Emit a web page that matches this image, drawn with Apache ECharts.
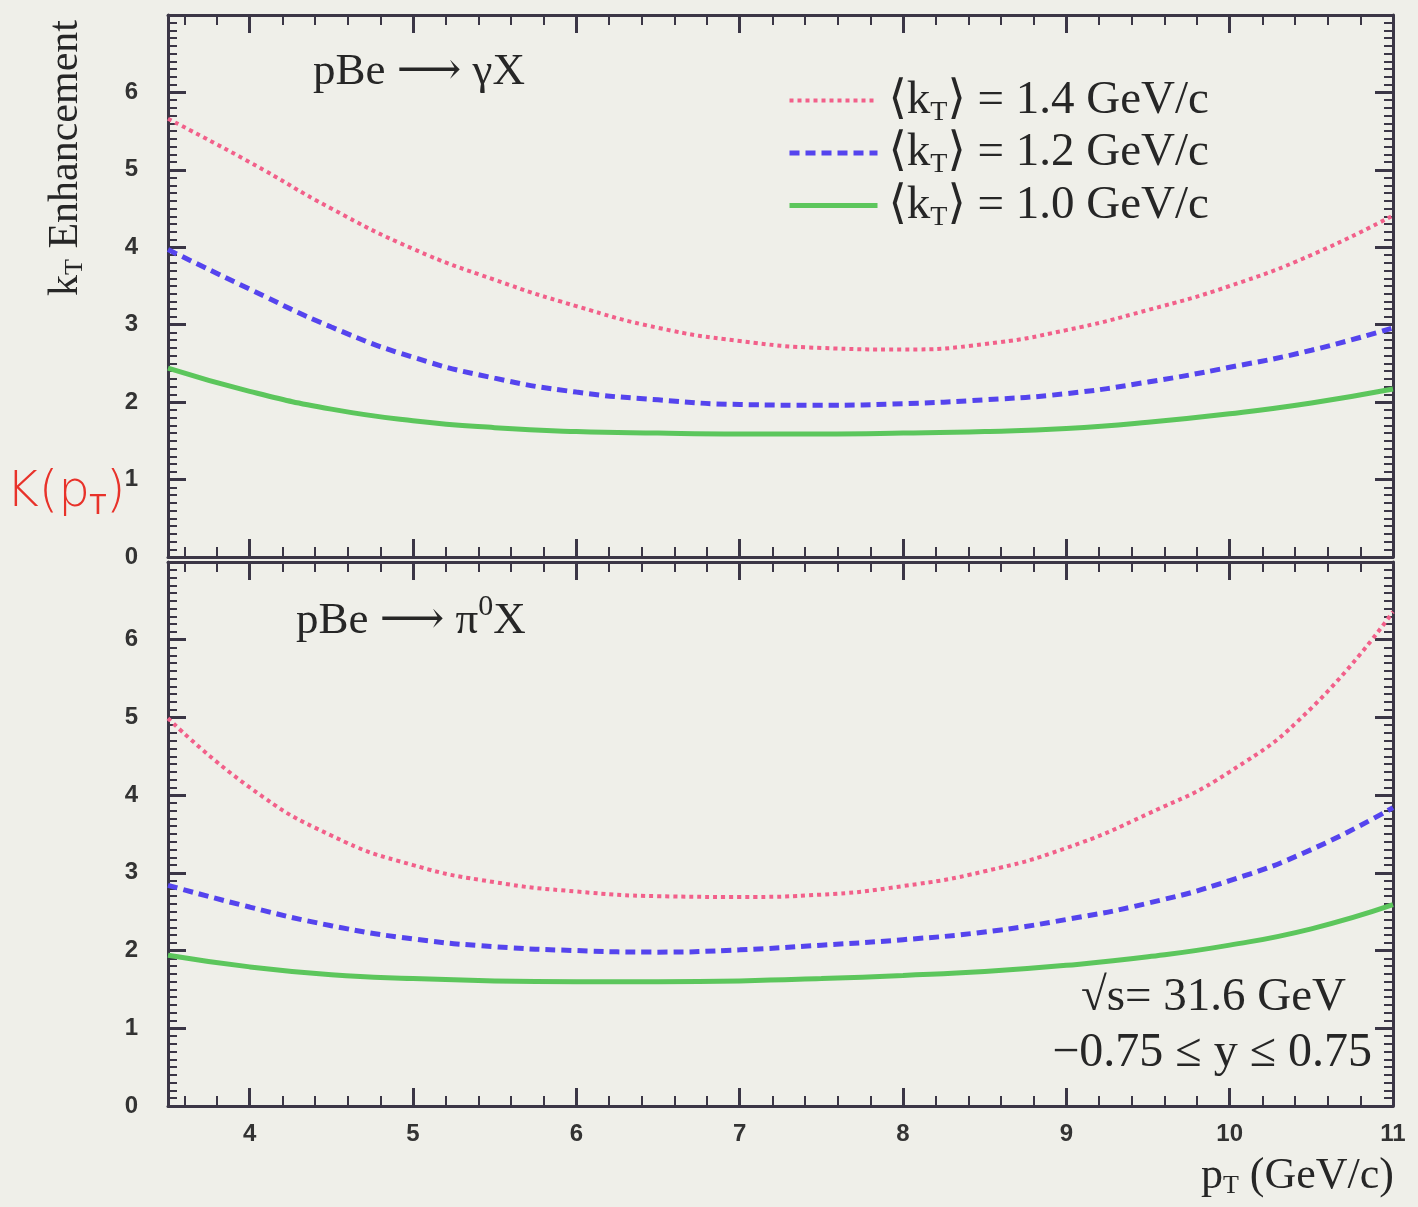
<!DOCTYPE html>
<html><head><meta charset="utf-8">
<script src="https://cdn.jsdelivr.net/npm/echarts@6/dist/echarts.min.js"></script>
<style>html,body{margin:0;padding:0;background:#efefe9}#c{width:1418px;height:1207px}</style>
</head><body><div id="c"></div><script>
// p_T sample points (GeV/c)
const pT = [3.5, 4, 4.5, 5, 5.5, 6, 6.5, 7, 7.5, 8, 8.5, 9, 9.5, 10, 10.5, 11];
const kTValues = ['1.4', '1.2', '1.0'];
// Top panel: pBe -> gamma X
const gamma14 = [5.66, 5.10, 4.50, 3.98, 3.58, 3.24, 2.96, 2.79, 2.70, 2.68, 2.75, 2.93, 3.19, 3.50, 3.90, 4.41];
const gamma12 = [3.97, 3.46, 2.97, 2.58, 2.31, 2.13, 2.03, 1.97, 1.96, 1.98, 2.03, 2.11, 2.26, 2.45, 2.67, 2.96];
const gamma10 = [2.44, 2.14, 1.91, 1.76, 1.67, 1.62, 1.60, 1.59, 1.59, 1.60, 1.62, 1.66, 1.74, 1.85, 1.99, 2.17];
// Bottom panel: pBe -> pi0 X
const pi14 = [4.99, 4.10, 3.48, 3.10, 2.88, 2.76, 2.70, 2.69, 2.72, 2.83, 3.02, 3.32, 3.76, 4.30, 5.12, 6.36];
const pi12 = [2.84, 2.56, 2.32, 2.15, 2.05, 2.00, 1.98, 2.01, 2.07, 2.14, 2.24, 2.40, 2.61, 2.90, 3.30, 3.84];
const pi10 = [1.94, 1.79, 1.69, 1.64, 1.61, 1.60, 1.60, 1.61, 1.64, 1.68, 1.73, 1.81, 1.92, 2.07, 2.28, 2.59];
const yTicks = [0, 1, 2, 3, 4, 5, 6];

const frameColor = '#3b3646';
const serif = "'Liberation Serif','DejaVu Serif',serif";
const sans = "'Liberation Sans','DejaVu Sans',sans-serif";
const ink = '#262626';
const colors = ['#f2608a', '#5544ee', '#5cc65c'];
const lineTypes = [[4, 4], [10, 6], 'solid'];
const names = kTValues.map(v => 'kT=' + v);

function xAxis(grid, pos, labels) {
  return {
    type: 'value', gridIndex: grid, position: pos, min: 3.5, max: 11,
    minInterval: 1, maxInterval: 1,
    axisLine: {show: true, onZero: false, lineStyle: {color: frameColor, width: 3}},
    axisTick: {show: true, inside: true, length: 18, lineStyle: {color: frameColor, width: 3}},
    minorTick: {show: true, splitNumber: 5, length: 10, lineStyle: {color: frameColor, width: 2}},
    splitLine: {show: false}, minorSplitLine: {show: false},
    axisLabel: {show: labels, margin: 16, color: '#333', fontFamily: sans, fontWeight: 'bold', fontSize: 24,
      formatter: v => Number.isInteger(v) ? String(v) : ''}
  };
}
function yAxis(grid, pos, labels) {
  return {
    type: 'value', gridIndex: grid, position: pos, min: 0, max: 7, interval: 1,
    axisLine: {show: true, onZero: false, lineStyle: {color: frameColor, width: 3}},
    axisTick: {show: true, inside: true, length: 18, lineStyle: {color: frameColor, width: 3}},
    minorTick: {show: true, splitNumber: 10, length: 9, lineStyle: {color: frameColor, width: 2}},
    splitLine: {show: false}, minorSplitLine: {show: false},
    axisLabel: {show: labels, margin: 30, color: '#333', fontFamily: sans, fontWeight: 'bold', fontSize: 24,
      showMaxLabel: false, formatter: v => yTicks.includes(v) ? String(v) : ''}
  };
}

function mk(i, grid, arr) {
  return {
    type: 'line', name: names[i], xAxisIndex: grid * 2, yAxisIndex: grid * 2,
    data: pT.map((x, k) => [x, arr[k]]), smooth: 0.5, symbol: 'none',
    lineStyle: {color: colors[i], width: i === 0 ? 4 : 5, type: lineTypes[i]},
    itemStyle: {color: colors[i]}, z: 3
  };
}

const chart = echarts.init(document.getElementById('c'), null, {renderer: 'canvas'});
chart.setOption({
  backgroundColor: '#efefe9',
  animation: false,
  grid: [
    {left: 168, right: 25, top: 15, height: 542},
    {left: 168, right: 25, top: 562, height: 544}
  ],
  xAxis: [xAxis(0, 'bottom', false), xAxis(0, 'top', false), xAxis(1, 'bottom', true), xAxis(1, 'top', false)],
  yAxis: [yAxis(0, 'left', true), yAxis(0, 'right', false), yAxis(1, 'left', true), yAxis(1, 'right', false)],
  legend: {
    data: names, orient: 'vertical', left: 782, top: 72, itemWidth: 88, itemHeight: 20, itemGap: 3,
    itemStyle: {opacity: 0},
    lineStyle: {width: 'inherit'},
    formatter: name => {
      const v = kTValues[names.indexOf(name)];
      return '{n|⟨k}{s|T}{n|⟩ = ' + v + ' GeV/c}';
    },
    textStyle: {padding: [0, 0, 0, 6], rich: {
      n: {fontFamily: serif, fontSize: 47, lineHeight: 52, color: ink, verticalAlign: 'middle'},
      s: {fontFamily: serif, fontSize: 28, lineHeight: 26, color: ink, verticalAlign: 'bottom'}
    }},
    selectedMode: false
  },
  series: [
    mk(0, 0, gamma14), mk(1, 0, gamma12), mk(2, 0, gamma10),
    mk(0, 1, pi14), mk(1, 1, pi12), mk(2, 1, pi10)
  ],
  graphic: [
    {type: 'text', left: 313, top: 50, style: {text: 'pBe ⟶ γX', font: '45px ' + serif, fill: ink}},
    {type: 'text', left: 296, top: 592, style: {text: '{n|pBe ⟶ π}{u|0}{n|X}', fill: ink,
      rich: {n: {fontFamily: serif, fontSize: 45, lineHeight: 52, verticalAlign: 'bottom'},
             u: {fontFamily: serif, fontSize: 30, lineHeight: 52, verticalAlign: 'top'}}}},
    {type: 'text', x: 66, y: 158, rotation: Math.PI / 2,
      style: {text: '{n|k}{s|T}{n| Enhancement}', align: 'center', verticalAlign: 'middle', fill: ink,
        rich: {n: {fontFamily: serif, fontSize: 42, lineHeight: 44, verticalAlign: 'middle'},
               s: {fontFamily: serif, fontSize: 26, lineHeight: 24, verticalAlign: 'bottom'}}}},
    {type: 'text', right: 72, top: 974, style: {text: '√s= 31.6 GeV', font: '47px ' + serif, fill: ink}},
    {type: 'text', right: 46, top: 1029, style: {text: '−0.75 ≤ y ≤ 0.75', font: '48px ' + serif, fill: ink}},
    {type: 'text', right: 24, top: 1154, style: {text: '{n|p}{s|T}{n| (GeV/c)}', fill: ink,
      rich: {n: {fontFamily: serif, fontSize: 44, lineHeight: 46, verticalAlign: 'middle'},
             s: {fontFamily: serif, fontSize: 26, lineHeight: 24, verticalAlign: 'bottom'}}}},
    {type: 'text', left: 6, top: 468, style: {text: '{n|K(p}{s|T}{n|)}', fill: '#e8322a',
      rich: {n: {fontFamily: "'DejaVu Sans',sans-serif", fontSize: 50, fontWeight: 'lighter', lineHeight: 54, verticalAlign: 'middle'},
             s: {fontFamily: "'DejaVu Sans',sans-serif", fontSize: 26, lineHeight: 26, verticalAlign: 'bottom'}}}}
  ]
});
</script></body></html>
